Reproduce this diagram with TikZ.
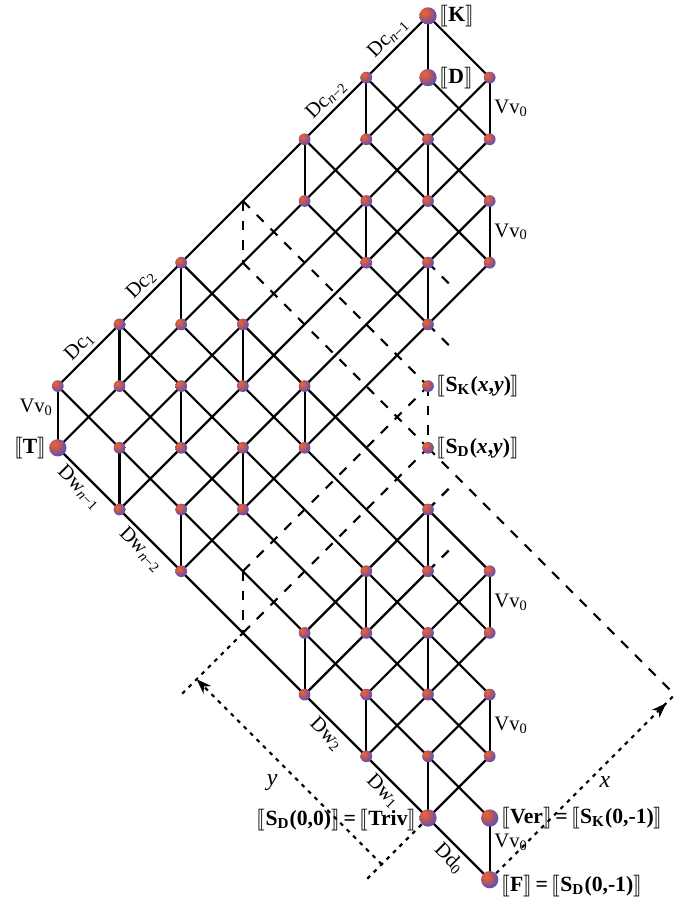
\documentclass[tikz,border=0pt]{standalone}
\usepackage{fontspec}
\setmainfont{Liberation Serif}
\usepackage{stmaryrd}
\usetikzlibrary{arrows.meta,decorations.markings,calc}

\definecolor{orbhi}{RGB}{236,96,46}
\definecolor{orblo}{RGB}{88,76,186}
\pgfdeclareradialshading{orb}{\pgfpoint{-12bp}{12bp}}{color(0bp)=(orbhi); color(4bp)=(orbhi); color(20bp)=(orbhi!45!orblo); color(32bp)=(orblo); color(60bp)=(orblo)}

\newcommand\semb[1]{$\llbracket$#1$\rrbracket$}

\begin{document}
\begin{tikzpicture}[
    lat/.style={line width=1pt},
    gapline/.style={line width=1pt, dash pattern=on 4.5pt off 4.5pt},
    meas/.style={line width=1pt, dash pattern=on 1.8pt off 2.4pt},
    orb/.style={circle, shading=orb, inner sep=0pt, minimum size=1.9mm},
    bigorb/.style={orb, minimum size=2.8mm},
    elbl/.style={font=\fontsize{9.5}{10}\selectfont, inner sep=2pt},
    nlbl/.style={font=\fontsize{10}{12}\selectfont\bfseries, inner sep=1pt}]
    \useasboundingbox (-6.937,-1.345) rectangle (4.036,13.258);

    % lattice points: d = lower level, k = upper level
    \foreach \a in {0,...,6}{
        \foreach \b in {0,...,6}{
            \coordinate (d\a\b) at ({\a-\b},{\a+\b});
            \coordinate (k\a\b) at ({\a-\b},{\a+\b+1});
        }
    }
    \coordinate (ver) at (1,0);
    \coordinate (f) at (1,-1);
    \coordinate (xend) at (4,2);
    \coordinate (yend) at (-4,2);
    \coordinate (tend) at (-1,-1);
    \coordinate (ya) at ($(d00)!0.75!(tend)$);
    \coordinate (yb) at ($(d03)!0.75!(yend)$);

    % solid lattice lines
    \foreach \l in {k,d}{
        \foreach \s/\e in {06/66,05/65,04/54,02/22,01/21,00/10,10/16,21/26,44/46,54/56,65/66}
            \draw[lat] (\l\s) -- (\l\e);
    }
    \draw[lat] (ver) -- (k06);
    \draw[lat] (f) -- (d06);
    \foreach \n in {44,54,45,55,65,46,56,66,04,14,24,05,15,25,06,16,26,00,10,01,11,21,02,12,22}
        \draw[lat] (k\n) -- (d\n);
    \draw[lat] (ver) -- (f);

    % dashed lines
    \foreach \l in {k,d}{
        \draw[gapline] (\l36) -- (\l33);
        \draw[gapline] (\l03) -- (\l33);
        \draw[gapline] (\l44) -- ($(\l44)!0.37!(\l43)$);
        \draw[gapline] (\l22) -- ($(\l22)!0.37!(\l32)$);
    }
    \foreach \n in {36,03,33}
        \draw[gapline] (k\n) -- (d\n);
    \draw[gapline] (d33) -- (xend);

    % measures
    \draw[meas] (d03) -- (yend);
    \draw[meas] (d00) -- (tend);
    \draw[meas, -{Stealth[length=7pt,width=5pt]}] (ya) -- (yb) node[pos=0.44, left=8pt, elbl, font=\fontsize{11}{12}\selectfont\itshape] {y};
    \draw[meas, postaction={decorate}, decoration={markings,
        mark=at position 0.955 with {\arrow{Stealth[length=7pt,width=5pt]}}}]
        (f) -- (xend) node[pos=0.53, right=3pt, elbl, font=\fontsize{11}{12}\selectfont\itshape] {x};

    % balls
    \foreach \n in {44,54,45,55,65,46,56,04,14,24,05,15,25,16,26,10,01,11,21,02,12,22,33}{
        \node[orb] (K\n) at (k\n) {};
        \node[orb] (D\n) at (d\n) {};
    }
    \node[orb] (K06) at (k06) {};
    \node[orb] (K00) at (k00) {};
    \node[bigorb] (K66) at (k66) {};
    \node[bigorb] (D66) at (d66) {};
    \node[bigorb] (D06) at (d06) {};
    \node[bigorb] (D00) at (d00) {};
    \node[bigorb] (Ver) at (ver) {};
    \node[bigorb] (F) at (f) {};

    % edge labels
    \path (k06) -- (k16) node[elbl, midway, above, sloped] {Dc\textsubscript{1}};
    \path (k16) -- (k26) node[elbl, midway, above, sloped] {Dc\textsubscript{2}};
    \path (k46) -- (k56) node[elbl, midway, above, sloped] {Dc\textsubscript{\textit{n}−2}};
    \path (k56) -- (k66) node[elbl, midway, above, sloped] {Dc\textsubscript{\textit{n}−1}};
    \path (d06) -- (d05) node[elbl, midway, below, sloped] {Dw\textsubscript{\textit{n}−1}};
    \path (d05) -- (d04) node[elbl, midway, below, sloped] {Dw\textsubscript{\textit{n}−2}};
    \path (d02) -- (d01) node[elbl, midway, below, sloped] {Dw\textsubscript{2}};
    \path (d01) -- (d00) node[elbl, pos=0.42, below, sloped] {Dw\textsubscript{1}};
    \path (d00) -- (f) node[elbl, midway, below, sloped] {Dd\textsubscript{0}};
    \foreach \n in {65,54,21,10}
        \path (k\n) -- (d\n) node[elbl, midway, right] {Vv\textsubscript{0}};
    \path (ver) -- (f) node[elbl, pos=0.4, right] {Vv\textsubscript{0}};
    \path (k06) -- (d06) node[elbl, pos=0.35, left] {Vv\textsubscript{0}};

    % node labels
    \node[nlbl, anchor=west] (lK) at (K66.east) {\semb{K}};
    \node[nlbl, anchor=west] (lD) at (D66.east) {\semb{D}};
    \node[nlbl, anchor=east] (lT) at (D06.west) {\semb{T}};
    \node[nlbl, anchor=west] (lSK) at (K33.east) {\semb{S\textsubscript{K}(\textit{x},\textit{y})}};
    \node[nlbl, anchor=west] (lSD) at (D33.east) {\semb{S\textsubscript{D}(\textit{x},\textit{y})}};
    \node[nlbl, anchor=east, yshift=-1pt] (lTriv) at (D00.west) {\semb{S\textsubscript{D}(0,0)}\,=\,\semb{Triv}};
    \node[nlbl, anchor=west] (lVer) at (Ver.east) {\semb{Ver}\,=\,\semb{S\textsubscript{K}(0,-1)}};
    \node[nlbl, anchor=west, yshift=-3pt] (lF) at (F.east) {\semb{F}\,=\,\semb{S\textsubscript{D}(0,-1)}};
\end{tikzpicture}
\end{document}
